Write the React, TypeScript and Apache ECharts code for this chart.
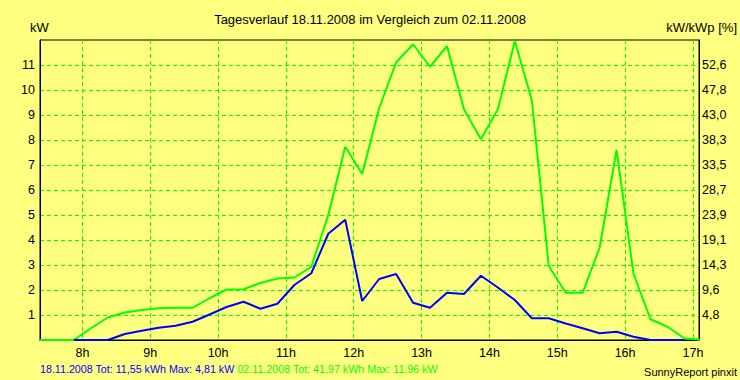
import React, { useEffect, useRef } from "react";
import * as echarts from "echarts";

// quarter-hour midpoints (HH:MM:SS)
const times = [
  "07:22:30", "07:37:30", "07:52:30", "08:07:30", "08:22:30", "08:37:30", "08:52:30",
  "09:07:30", "09:22:30", "09:37:30", "09:52:30", "10:07:30", "10:22:30", "10:37:30",
  "10:52:30", "11:07:30", "11:22:30", "11:37:30", "11:52:30", "12:07:30", "12:22:30",
  "12:37:30", "12:52:30", "13:07:30", "13:22:30", "13:37:30", "13:52:30", "14:07:30",
  "14:22:30", "14:37:30", "14:52:30", "15:07:30", "15:22:30", "15:37:30", "15:52:30",
  "16:07:30", "16:22:30", "16:37:30", "16:52:30", "17:07:30",
];

// 02.11.2008 (kW)
const greenKW = [
  0, 0, 0, 0.47, 0.9, 1.1, 1.2,
  1.27, 1.29, 1.29, 1.67, 2.02, 2.03, 2.28,
  2.46, 2.5, 2.93, 5.0, 7.73, 6.64, 9.27,
  11.1, 11.83, 10.93, 11.76, 9.23, 8.03, 9.23,
  11.96, 9.6, 2.96, 1.89, 1.89, 3.69, 7.6,
  2.64, 0.83, 0.53, 0.07, 0,
];

// 18.11.2008 (kW)
const blueKW: (number | null)[] = [
  null, null, 0, 0, 0, 0.24, 0.37,
  0.49, 0.57, 0.73, 1.02, 1.32, 1.53, 1.25,
  1.45, 2.2, 2.67, 4.25, 4.81, 1.56, 2.44,
  2.64, 1.49, 1.29, 1.89, 1.84, 2.57, 2.1,
  1.6, 0.87, 0.87, 0.66, 0.47, 0.27, 0.33,
  0.13, 0, 0, 0, null,
];

const hourTicks = [8, 9, 10, 11, 12, 13, 14, 15, 16, 17];
const rightLabels = ["4,8", "9,6", "14,3", "19,1", "23,9", "28,7", "33,5", "38,3", "43,0", "47,8", "52,6"];

const blueSummary = "18.11.2008 Tot: 11,55 kWh Max: 4,81 kW";
const greenSummary = "02.11.2008 Tot: 41,97 kWh Max: 11,96 kW";

const toHours = (t: string) => {
  const [h, m, s] = t.split(":").map(Number);
  return h + m / 60 + s / 3600;
};

const FONT = '"Liberation Sans", Arial, sans-serif';
const BG = "#FFFF80";
const GREEN = "#00FF00";
const BLUE = "#0000FF";

export default function App() {
  const ref = useRef<HTMLDivElement>(null);
  useEffect(() => {
    if (!ref.current) return;
    const chart = echarts.init(ref.current, undefined, { renderer: "svg" });
    const greenData = times.map((t, i) => [toHours(t), greenKW[i]]);
    const blueData = times.map((t, i) => [toHours(t), blueKW[i]]);
    chart.setOption({
      animation: false,
      backgroundColor: BG,
      textStyle: { fontFamily: FONT },
      grid: {
        left: 40, right: 41, top: 40, bottom: 40,
        show: true, borderColor: "#000", borderWidth: 1, backgroundColor: "transparent",
      },
      xAxis: {
        type: "value",
        min: 7.375,
        max: 17.09,
        axisLine: { show: true, lineStyle: { color: "#000", width: 1 } },
        axisTick: { show: false, customValues: hourTicks },
        axisLabel: {
          customValues: hourTicks,
          formatter: (v: number) => `${v}h`,
          color: "#000", fontSize: 12.5, fontFamily: FONT, margin: 6,
        },
        splitLine: {
          show: true,
          lineStyle: { color: GREEN, type: [4, 3], width: 1 },
        },
      },
      yAxis: [
        {
          type: "value", min: 0, max: 12, interval: 1,
          axisLine: { show: true, lineStyle: { color: "#000" } },
          axisTick: { show: false },
          axisLabel: {
            formatter: (v: number) => (v === 0 || v === 12 ? "" : String(v)),
            color: "#000", fontSize: 12.5, fontFamily: FONT, margin: 5,
          },
          splitLine: {
            show: true, showMinLine: false, showMaxLine: false,
            lineStyle: { color: GREEN, type: [4, 3], width: 1 },
          },
        },
        {
          type: "value", min: 0, max: 12, interval: 1, position: "right",
          axisLine: { show: true, lineStyle: { color: "#000" } },
          axisTick: { show: false },
          axisLabel: {
            formatter: (v: number) => (v >= 1 && v <= 11 ? rightLabels[v - 1] : ""),
            color: "#000", fontSize: 12.5, fontFamily: FONT, margin: 3,
          },
          splitLine: { show: false },
        },
      ],
      series: [
        {
          type: "line", data: greenData, showSymbol: false, symbol: "none",
          lineStyle: { color: GREEN, width: 2 }, connectNulls: false, z: 3,
        },
        {
          type: "line", data: blueData, showSymbol: false, symbol: "none",
          lineStyle: { color: BLUE, width: 2 }, connectNulls: false, z: 4,
        },
      ],
      graphic: [
        {
          type: "text", x: 370, y: 19,
          style: {
            text: "Tagesverlauf 18.11.2008 im Vergleich zum 02.11.2008",
            textAlign: "center", textVerticalAlign: "middle",
            font: `13px ${FONT}`, fill: "#000",
          },
        },
        {
          type: "text", x: 30, y: 27,
          style: { text: "kW", textAlign: "left", textVerticalAlign: "middle", font: `13px ${FONT}`, fill: "#000" },
        },
        {
          type: "text", x: 737, y: 27,
          style: { text: "kW/kWp [%]", textAlign: "right", textVerticalAlign: "middle", font: `13px ${FONT}`, fill: "#000" },
        },
        {
          type: "text", x: 40, y: 369,
          style: {
            text: `{b|${blueSummary}} {g|${greenSummary}}`,
            textAlign: "left", textVerticalAlign: "middle",
            font: `10.7px ${FONT}`, fill: "#000",
            rich: {
              b: { fill: BLUE, fontSize: 10.7, fontFamily: FONT },
              g: { fill: GREEN, fontSize: 10.7, fontFamily: FONT },
            },
          },
        },
        {
          type: "text", x: 737, y: 372,
          style: {
            text: "SunnyReport pinxit",
            textAlign: "right", textVerticalAlign: "middle", font: `11px ${FONT}`, fill: "#000",
          },
        },
      ],
    });
    return () => chart.dispose();
  }, []);
  return <div ref={ref} style={{ width: 740, height: 380, position: "absolute", left: 0, top: 0 }} />;
}
